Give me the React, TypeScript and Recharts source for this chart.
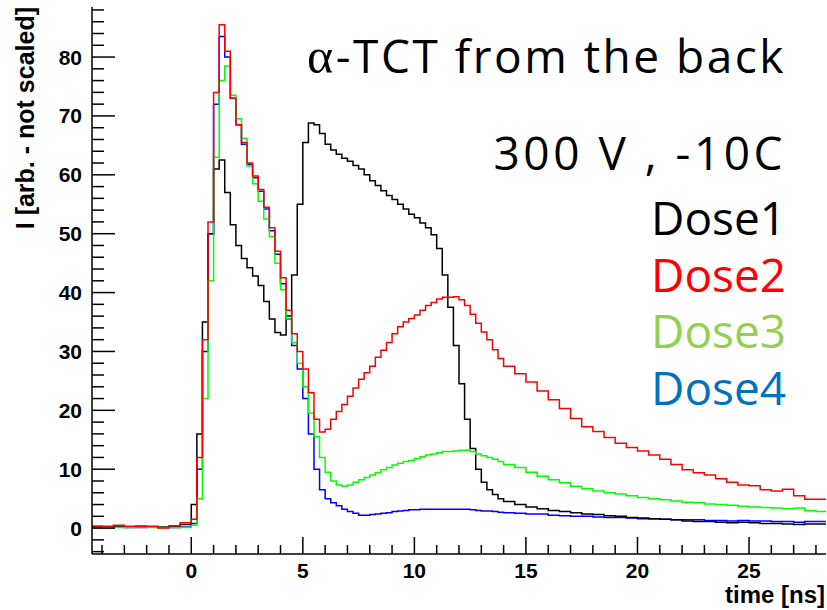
import React from "react";
import { LineChart, Line, XAxis, YAxis } from "recharts";

// bin start times [ns]; bins are 0.5 ns outside 0..14 ns and 0.25 ns inside
const TIME = [
  -4.5, -4, -3.5, -3, -2.5, -2, -1.5, -1, -0.5,
  0, 0.25, 0.5, 0.75, 1, 1.25, 1.5, 1.75, 2, 2.25, 2.5, 2.75, 3, 3.25, 3.5, 3.75,
  4, 4.25, 4.5, 4.75, 5, 5.25, 5.5, 5.75, 6, 6.25, 6.5, 6.75, 7, 7.25, 7.5, 7.75,
  8, 8.25, 8.5, 8.75, 9, 9.25, 9.5, 9.75, 10, 10.25, 10.5, 10.75, 11, 11.25, 11.5, 11.75,
  12, 12.25, 12.5, 12.75, 13, 13.25, 13.5, 13.75,
  14, 14.5, 15, 15.5, 16, 16.5, 17, 17.5, 18, 18.5, 19, 19.5, 20, 20.5, 21, 21.5,
  22, 22.5, 23, 23.5, 24, 24.5, 25, 25.5, 26, 26.5, 27, 27.5, 28,
  28.5,
];

const DOSE1 = [
  0.3, 0.2, 0.2, 0.2, 0.3, 0.2, 0.2, 0.3, 0.6,
  4, 16, 35, 50, 61, 62.5, 57, 51.5, 48, 45.8, 44.2, 42.8, 41.2, 38.5, 35.5, 33.2,
  32.8, 36, 43, 55, 65.5, 68.8, 68.5, 67, 65.2, 64.2, 63.5, 62.8, 62.3, 61.6, 61, 60,
  59, 58.2, 57.3, 56.5, 55.8, 55, 54.2, 53.3, 52.7, 51.8, 51, 49.8, 47.5, 43, 37.5, 31,
  24.5, 18.5, 13.5, 10, 7.8, 6.5, 5.7, 5.0,
  4.5, 4.0, 3.6, 3.3, 3.0, 2.8, 2.6, 2.4, 2.3, 2.1, 2.0, 1.8, 1.7, 1.6, 1.5, 1.4,
  1.2, 1.1, 1.1, 1.0, 0.9, 1.0, 0.9, 0.8, 0.8, 0.7, 0.6, 0.7, 0.7,
  0.7,
];

const DOSE2 = [
  0.2, 0.3, 0.5, 0.3, 0.3, 0.3, 0.0, 0.4, 0.9,
  1.5, 12, 32, 52, 74, 85.5, 81, 73, 68.5, 65.5, 62, 59.8, 57.5, 54.5, 51, 47,
  42.5, 37, 33, 30, 27, 23, 18.5, 16.3, 16.8, 18.5, 19.8, 21, 22.4, 23.8, 25.3, 26.4,
  27.5, 29, 30.2, 31.5, 33, 34.2, 35, 35.6, 36.2, 37, 37.8, 38.3, 38.9, 39.2, 39.2, 39.3,
  38.8, 37.8, 36.3, 34.8, 33.3, 32, 30.3, 28.8,
  27.5, 26.2, 24.8, 23.3, 21.8, 20.3, 18.6, 17.2, 16.4, 15.4, 14.4, 13.7, 13.1, 12.4, 11.7, 10.8,
  9.9, 9.4, 9.0, 8.4, 7.8, 7.3, 7.2, 6.5, 6.3, 6.6, 5.5, 4.9, 4.9,
  4.9,
];

const DOSE3 = [
  0.1, 0.1, 0.1, 0.1, 0.2, 0.1, 0.1, 0.1, 0.1,
  0.5, 5, 22, 42, 63, 76, 78.5, 73.5, 69.5, 66.2, 61.5, 58.5, 55.5, 52.5, 49.5, 45,
  40.5, 35.5, 31.5, 28, 24, 19.5, 15.5, 12, 9.5, 8, 7.3, 7.1, 7.3, 7.8, 8.2, 8.6,
  9.0, 9.4, 9.9, 10.3, 10.7, 11.0, 11.3, 11.5, 11.8, 12.1, 12.4, 12.6, 12.8, 13.0, 13.0, 13.1,
  13.2, 13.2, 13.0, 12.6, 12.3, 12.0, 11.7, 11.3,
  10.8, 10.3, 9.5, 8.8, 8.2, 7.7, 7.1, 6.7, 6.3, 6.0, 5.8, 5.5, 5.2, 5.0, 4.8, 4.6,
  4.4, 4.3, 4.1, 4.0, 3.9, 3.7, 3.6, 3.5, 3.4, 3.3, 3.4, 3.0, 2.8,
  2.8,
];

const DOSE4 = [
  0.1, 0.1, 0.2, 0.1, 0.1, 0.2, 0.1, 0.1, 0.2,
  0.8, 10, 30, 50, 72, 83.5, 80, 73, 68.5, 65.2, 61.8, 59.5, 57.2, 54.2, 50.5, 46.5,
  41.5, 35.5, 31, 27, 22, 16, 10, 6.5, 5, 4.3, 3.8, 3.2, 2.8, 2.5, 2.2, 2.2,
  2.3, 2.4, 2.5, 2.6, 2.8, 2.9, 3.0, 3.1, 3.1, 3.2, 3.2, 3.2, 3.2, 3.2, 3.2, 3.2,
  3.2, 3.2, 3.1, 3.0, 2.9, 2.9, 2.8, 2.7,
  2.6, 2.5, 2.4, 2.4, 2.2, 2.1, 2.0, 2.0, 1.9, 1.8, 1.8, 1.7, 1.6, 1.6, 1.5, 1.4,
  1.4, 1.4, 1.3, 1.3, 1.2, 1.3, 1.2, 1.2, 1.1, 1.1, 1.0, 1.1, 1.1,
  1.1,
];

const X_TICKS = [-4, -3, -2, -1, 0, 1, 2, 3, 4, 5, 6, 7, 8, 9, 10, 11, 12, 13, 14, 15, 16, 17, 18, 19, 20, 21, 22, 23, 24, 25, 26, 27, 28];
const Y_TICKS = [-4, -2, 0, 2, 4, 6, 8, 10, 12, 14, 16, 18, 20, 22, 24, 26, 28, 30, 32, 34, 36, 38, 40, 42, 44, 46, 48, 50, 52, 54, 56, 58, 60, 62, 64, 66, 68, 70, 72, 74, 76, 78, 80, 82, 84, 86, 88];

const LEGEND = ["Dose1", "Dose2", "Dose3", "Dose4"];
const LEGEND_COLORS = ["#000000", "#ff0000", "#92d050", "#0070c0"];

const data = TIME.map((t, i) => ({ t, dose1: DOSE1[i], dose2: DOSE2[i], dose3: DOSE3[i], dose4: DOSE4[i] }));

const tickFont = { fontFamily: "Liberation Sans, Arial, sans-serif", fontWeight: 700, fontSize: 21 };

function XTick(props: any) {
  const { x, y, payload } = props;
  const v = payload.value;
  const major = v % 5 === 0;
  return (
    <g>
      <line x1={x} x2={x} y1={y} y2={y - (major ? 17 : 9)} stroke="#000" strokeWidth={1.5} />
      {major && (
        <text x={x} y={y + 24} textAnchor="middle" fill="#000" style={tickFont}>
          {v}
        </text>
      )}
    </g>
  );
}

function YTick(props: any) {
  const { x, y, payload } = props;
  const v = payload.value;
  const major = v % 10 === 0;
  return (
    <g>
      <line x1={x} x2={x + (major ? 23 : 12)} y1={y} y2={y} stroke="#000" strokeWidth={1.5} />
      {major && (
        <text x={x - 10} y={y} dy="0.36em" textAnchor="end" fill="#000" style={tickFont}>
          {v}
        </text>
      )}
    </g>
  );
}

export default function App() {
  const annot = { fontFamily: "Open Sans, sans-serif", fontSize: 46, letterSpacing: 2.5 };
  return (
    <div style={{ position: "absolute", left: 0, top: 0, width: 827, height: 610, background: "#fff" }}>
      <LineChart width={827} height={610} data={data} margin={{ top: 7, right: 1, bottom: 0, left: 12 }}>
        <XAxis
          dataKey="t"
          type="number"
          domain={[-4.45, 28.45]}
          allowDataOverflow
          ticks={X_TICKS}
          interval={0}
          tickSize={0}
          tickMargin={0}
          tickLine={false}
          tick={<XTick />}
          height={56}
          axisLine={{ stroke: "#000", strokeWidth: 1.5 }}
        />
        <XAxis
          xAxisId="top"
          orientation="top"
          dataKey="t"
          type="number"
          domain={[-4.45, 28.45]}
          allowDataOverflow
          tick={false}
          tickLine={false}
          height={0}
          axisLine={{ stroke: "#000", strokeWidth: 1.5 }}
        />
        <YAxis
          type="number"
          domain={[-4.4, 88.5]}
          allowDataOverflow
          ticks={Y_TICKS}
          interval={0}
          tickSize={0}
          tickMargin={0}
          tickLine={false}
          tick={<YTick />}
          width={80}
          axisLine={{ stroke: "#000", strokeWidth: 1.5 }}
        />
        <YAxis
          yAxisId="right"
          orientation="right"
          type="number"
          domain={[-4.4, 88.5]}
          allowDataOverflow
          tick={false}
          tickLine={false}
          width={0}
          axisLine={{ stroke: "#000", strokeWidth: 1.5 }}
        />
        <Line type="stepAfter" dataKey="dose4" stroke="#0000ff" strokeWidth={1.5} dot={false} isAnimationActive={false} />
        <Line type="stepAfter" dataKey="dose1" stroke="#000000" strokeWidth={1.5} dot={false} isAnimationActive={false} />
        <Line type="stepAfter" dataKey="dose3" stroke="#00ff00" strokeWidth={1.5} dot={false} isAnimationActive={false} />
        <Line type="stepAfter" dataKey="dose2" stroke="#ff0000" strokeWidth={1.5} dot={false} isAnimationActive={false} />
      </LineChart>
      <svg width={827} height={610} style={{ position: "absolute", left: 0, top: 0, pointerEvents: "none" }}>
        <text transform="translate(34,7) rotate(-90)" textAnchor="end" fill="#000" style={{ ...tickFont, fontSize: 25 }}>
          I [arb. - not scaled]
        </text>
        <text x={825} y={603} textAnchor="end" fill="#000" style={{ ...tickFont, fontSize: 24 }}>
          time [ns]
        </text>
        <text x={786} y={73} textAnchor="end" fill="#000" style={annot}>
          <tspan style={{ fontFamily: "Liberation Serif, serif", fontSize: 50 }}>α</tspan>-TCT from the back
        </text>
        <text x={786} y={170} textAnchor="end" fill="#000" style={{ ...annot, letterSpacing: 3.5 }}>
          300 V , -10C
        </text>
        {LEGEND.map((name, i) => (
          <text key={name} x={651} y={235 + i * 56.7} fill={LEGEND_COLORS[i]} style={{ ...annot, letterSpacing: 0 }}>
            {name}
          </text>
        ))}
      </svg>
    </div>
  );
}
